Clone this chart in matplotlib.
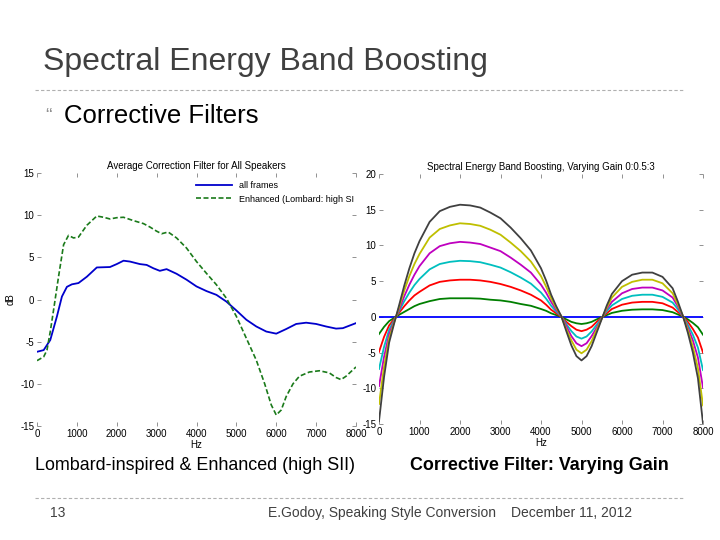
import matplotlib
matplotlib.use('Agg')
import matplotlib.pyplot as plt
from matplotlib.lines import Line2D

plt.rcParams['font.family'] = ['Liberation Sans', 'DejaVu Sans']
plt.rcParams['axes.unicode_minus'] = False

# left plot: average correction filter
avg_hz = [0, 167, 333, 500, 625, 750, 875, 1040, 1250, 1500, 1830, 2000, 2170, 2330,
          2580, 2750, 2920, 3080, 3250, 3500, 3750, 4000, 4250, 4500, 4750, 5000,
          5250, 5500, 5750, 6000, 6250, 6500, 6750, 7000, 7250, 7500, 7670, 8000]
all_frames = [-6.2, -6.0, -4.8, -2.0, 0.35, 1.5, 1.8, 1.95, 2.7, 3.8, 3.85, 4.2, 4.6, 4.5,
              4.2, 4.1, 3.7, 3.4, 3.6, 3.05, 2.35, 1.55, 1.0, 0.55, -0.25, -1.3,
              -2.4, -3.2, -3.8, -4.05, -3.5, -2.9, -2.75, -2.9, -3.2, -3.45, -3.4, -2.8]

enh_hz = [0, 167, 250, 333, 417, 540, 667, 790, 917, 1040, 1250, 1500, 1670, 1830, 2000,
          2170, 2420, 2670, 2830, 3000, 3125, 3290, 3500, 3750, 4000, 4250, 4500, 4750,
          5000, 5250, 5500, 5710, 5875, 6000, 6125, 6250, 6420, 6580, 6830, 7080, 7330,
          7500, 7625, 7750, 8000]
enhanced = [-7.25, -6.8, -6.0, -3.8, -1.2, 2.7, 6.5, 7.6, 7.3, 7.4, 8.8, 9.9, 9.75, 9.55, 9.7,
            9.75, 9.35, 9.0, 8.6, 8.1, 7.8, 8.0, 7.3, 6.1, 4.5, 3.1, 1.75, 0.15,
            -2.0, -4.6, -7.2, -10.0, -12.5, -13.7, -13.1, -11.5, -10.0, -9.1, -8.6, -8.45, -8.7,
            -9.25, -9.5, -9.1, -8.0]

# right plot: boosting filter for gains 0:0.5:3
boost_hz = [0, 125, 250, 375, 500, 625, 750, 875, 1000, 1250, 1500, 1750, 2000, 2250, 2500,
            2750, 3000, 3250, 3500, 3750, 4000, 4125, 4250, 4375, 4500, 4625, 4750, 4875,
            5000, 5125, 5250, 5375, 5500, 5625, 5750, 6000, 6250, 6500, 6750, 7000, 7250,
            7375, 7500, 7625, 7750, 7875, 8000]
gain_0 = [0, 0, 0, 0, 0, 0, 0, 0, 0, 0, 0, 0, 0, 0, 0, 0, 0, 0, 0, 0, 0, 0, 0, 0, 0, 0, 0,
          0, 0, 0, 0, 0, 0, 0, 0, 0, 0, 0, 0, 0, 0, 0, 0, 0, 0, 0, 0]
gain_05 = [-2.4, -1.4, -0.6, -0.15, 0.3, 0.7, 1.1, 1.5, 1.8, 2.2, 2.5, 2.6, 2.6, 2.6, 2.55,
           2.4, 2.3, 2.1, 1.8, 1.55, 1.1, 0.85, 0.5, 0.25, 0.0, -0.35, -0.7, -0.9, -1.0,
           -0.9, -0.7, -0.35, -0.05, 0.25, 0.55, 0.85, 1.0, 1.05, 1.05, 0.95, 0.65, 0.35,
           0.05, -0.35, -0.85, -1.45, -2.5]
gain_1 = [-4.9, -2.8, -1.2, -0.3, 0.6, 1.5, 2.3, 3.0, 3.5, 4.4, 4.9, 5.1, 5.2, 5.2, 5.1,
          4.9, 4.6, 4.2, 3.7, 3.1, 2.3, 1.7, 1.0, 0.5, 0.0, -0.7, -1.3, -1.8, -2.0, -1.8,
          -1.4, -0.7, -0.1, 0.5, 1.1, 1.7, 2.0, 2.1, 2.1, 1.9, 1.3, 0.7, 0.1, -0.7, -1.7,
          -2.9, -5.0]
gain_15 = [-7.3, -4.2, -1.8, -0.45, 0.85, 2.2, 3.4, 4.45, 5.3, 6.65, 7.4, 7.7, 7.85, 7.8,
           7.65, 7.3, 6.9, 6.25, 5.5, 4.65, 3.4, 2.55, 1.55, 0.75, 0.05, -1.0, -2.0, -2.75,
           -3.05, -2.75, -2.05, -1.1, -0.15, 0.8, 1.6, 2.5, 2.95, 3.1, 3.1, 2.8, 2.0, 1.1,
           0.1, -1.1, -2.5, -4.3, -7.45]
gain_2 = [-9.7, -5.6, -2.4, -0.6, 1.1, 2.9, 4.5, 5.9, 7.1, 8.9, 9.9, 10.3, 10.5, 10.4, 10.2,
          9.7, 9.2, 8.3, 7.3, 6.2, 4.5, 3.4, 2.1, 1.0, 0.1, -1.3, -2.7, -3.7, -4.1, -3.7,
          -2.7, -1.5, -0.2, 1.1, 2.1, 3.3, 3.9, 4.1, 4.1, 3.7, 2.7, 1.5, 0.1, -1.5, -3.3,
          -5.7, -9.9]
gain_25 = [-12.2, -7.0, -3.0, -0.75, 1.4, 3.7, 5.7, 7.4, 8.8, 11.1, 12.3, 12.8, 13.1, 13.0,
           12.75, 12.2, 11.5, 10.4, 9.2, 7.75, 5.7, 4.25, 2.6, 1.25, 0.1, -1.7, -3.3, -4.6,
           -5.1, -4.6, -3.4, -1.8, -0.25, 1.3, 2.7, 4.2, 4.9, 5.2, 5.2, 4.7, 3.3, 1.8, 0.2,
           -1.8, -4.2, -7.2, -12.4]
gain_3 = [-14.6, -8.4, -3.6, -0.9, 1.7, 4.4, 6.8, 8.9, 10.6, 13.3, 14.8, 15.4, 15.7, 15.6,
          15.3, 14.6, 13.8, 12.5, 11.0, 9.3, 6.8, 5.1, 3.1, 1.5, 0.1, -2.0, -4.0, -5.5, -6.1,
          -5.5, -4.1, -2.2, -0.3, 1.6, 3.2, 5.0, 5.9, 6.2, 6.2, 5.6, 4.0, 2.2, 0.2, -2.2,
          -5.0, -8.6, -14.9]

gain_series = [gain_0, gain_05, gain_1, gain_15, gain_2, gain_25, gain_3]
gain_colors = ['#0000ff', '#007f00', '#ff0000', '#00bfbf', '#bf00bf', '#bfbf00', '#404040']

hz_ticks = [0, 1000, 2000, 3000, 4000, 5000, 6000, 7000, 8000]

fig = plt.figure(figsize=(7.2, 5.4), dpi=100)

# slide text
fig.text(43/720, 1 - 62/540, 'Spectral Energy Band Boosting', fontsize=23,
         color='#404040', va='center', ha='left')
fig.add_artist(Line2D([35/720, 685/720], [1 - 90/540]*2, color='#b0b0b0', lw=0.8,
                      ls=(0, (3, 2))))
fig.text(45/720, 1 - 117/540, '\u201c', fontsize=14, color='#909090', va='center')
fig.text(64/720, 1 - 116/540, 'Corrective Filters', fontsize=18.5, color='black', va='center')
fig.text(35/720, 1 - 466/540, 'Lombard-inspired & Enhanced (high SII)', fontsize=12.9,
         va='center')
fig.text(410/720, 1 - 466/540, 'Corrective Filter: Varying Gain', fontsize=12.9,
         fontweight='bold', va='center')
fig.add_artist(Line2D([35/720, 685/720], [1 - 498/540]*2, color='#b0b0b0', lw=0.8,
                      ls=(0, (3, 2))))
fig.text(50/720, 1 - 513/540, '13', fontsize=10, color='#404040', va='center')
fig.text(268/720, 1 - 513/540, 'E.Godoy, Speaking Style Conversion', fontsize=10,
         color='#404040', va='center')
fig.text(511/720, 1 - 513/540, 'December 11, 2012', fontsize=10, color='#404040',
         va='center')


def style(ax):
    for s in ax.spines.values():
        s.set_visible(False)
    ax.tick_params(direction='in', length=3, width=0.6, color='#808080', labelsize=7,
                   top=True, right=True, pad=2)


# left axes
ax1 = fig.add_axes([37/720, 1 - 426/540, 319/720, 253/540])
ax1.plot(avg_hz, all_frames, color='#0000cc', lw=1.3, label='all frames')
ax1.plot(enh_hz, enhanced, color='#1a7a1a', lw=1.2, ls='--', dashes=(3, 1.5),
         label='Enhanced (Lombard: high SI')
ax1.set_xlim(0, 8000)
ax1.set_ylim(-15, 15)
ax1.set_xticks(hz_ticks)
ax1.set_yticks([-15, -10, -5, 0, 5, 10, 15])
ax1.set_title('Average Correction Filter for All Speakers', fontsize=7, pad=3)
ax1.set_xlabel('Hz', fontsize=7, labelpad=1)
ax1.set_ylabel('dB', fontsize=7, labelpad=3)
ax1.legend(loc='upper right', bbox_to_anchor=(1.02, 1.0), frameon=False, fontsize=6.5,
           handlelength=4, labelspacing=0.5)
style(ax1)

# right axes
ax2 = fig.add_axes([379/720, 1 - 424/540, 324/720, 250/540])
for vals, col in zip(gain_series, gain_colors):
    ax2.plot(boost_hz, vals, color=col, lw=1.3)
ax2.set_xlim(0, 8000)
ax2.set_ylim(-15, 20)
ax2.set_xticks(hz_ticks)
ax2.set_yticks([-15, -10, -5, 0, 5, 10, 15, 20])
ax2.set_title('Spectral Energy Band Boosting, Varying Gain 0:0.5:3', fontsize=7, pad=3)
ax2.set_xlabel('Hz', fontsize=7, labelpad=1)
style(ax2)

fig.savefig('out.png', dpi=100)
